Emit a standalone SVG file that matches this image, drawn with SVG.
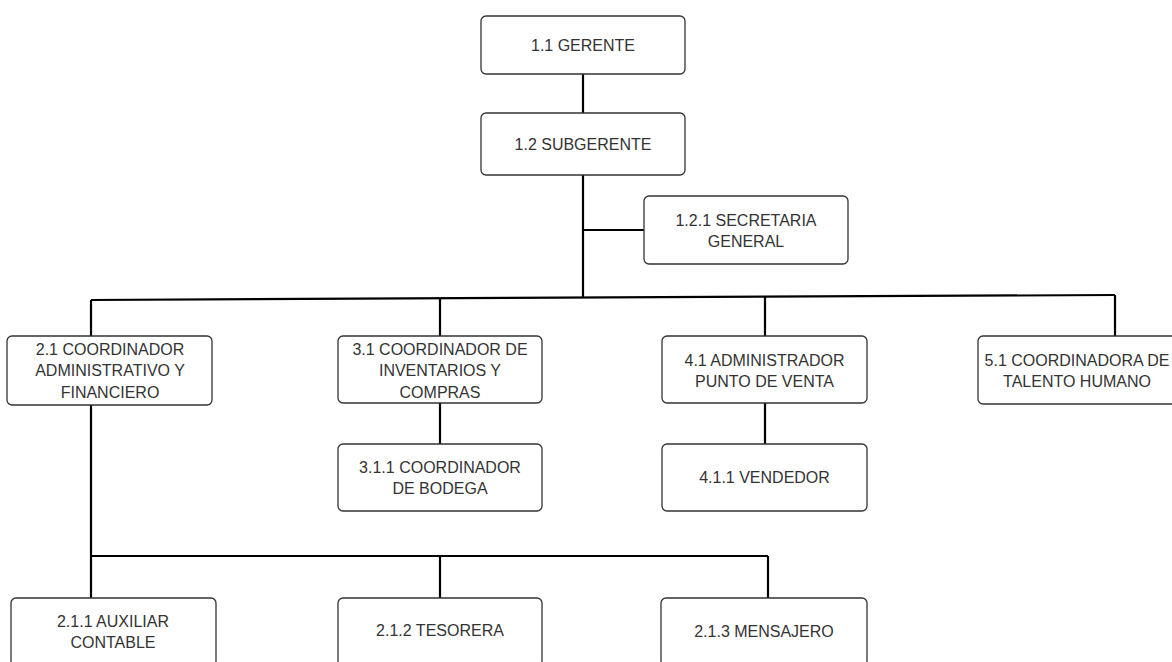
<svg xmlns="http://www.w3.org/2000/svg" width="1172" height="662" viewBox="0 0 1172 662">
<style>
.box{fill:#fff;stroke:#333;stroke-width:1.3}
.lbl{font-family:"Liberation Sans",Arial,sans-serif;font-size:16px;fill:#333;text-anchor:middle}
.ln{stroke:#000;stroke-width:2.2;fill:none}
</style>
<rect width="1172" height="662" fill="#fff"/>
<g id="connectors">
<line class="ln" x1="583" y1="74" x2="583" y2="113"/>
<line class="ln" x1="583" y1="175" x2="583" y2="298"/>
<line class="ln" x1="583" y1="230" x2="644" y2="230"/>
<line class="ln" x1="91" y1="300" x2="1115" y2="295"/>
<line class="ln" x1="91" y1="300" x2="91" y2="336"/>
<line class="ln" x1="440" y1="298" x2="440" y2="336"/>
<line class="ln" x1="765" y1="296.3" x2="765" y2="336"/>
<line class="ln" x1="1115" y1="295" x2="1115" y2="336"/>
<line class="ln" x1="440" y1="403" x2="440" y2="444"/>
<line class="ln" x1="765" y1="403" x2="765" y2="444"/>
<line class="ln" x1="91" y1="405" x2="91" y2="598"/>
<line class="ln" x1="91" y1="556" x2="768" y2="556"/>
<line class="ln" x1="440" y1="556" x2="440" y2="598"/>
<line class="ln" x1="768" y1="556" x2="768" y2="598"/>
</g>
<g id="n11"><rect class="box" x="481" y="16" width="204" height="58" rx="5"/><text class="lbl" x="583" y="50.5">1.1 GERENTE</text></g>
<g id="n12"><rect class="box" x="481" y="113" width="204" height="62" rx="5"/><text class="lbl" x="583" y="149.5">1.2 SUBGERENTE</text></g>
<g id="n121"><rect class="box" x="644" y="196" width="204" height="68" rx="5"/><text class="lbl" x="746" y="225.5">1.2.1 SECRETARIA</text><text class="lbl" x="746" y="247">GENERAL</text></g>
<g id="n21"><rect class="box" x="7" y="336" width="205" height="69" rx="5"/><text class="lbl" x="110" y="354.5">2.1 COORDINADOR</text><text class="lbl" x="110" y="376">ADMINISTRATIVO Y</text><text class="lbl" x="110" y="397.5">FINANCIERO</text></g>
<g id="n31"><rect class="box" x="338" y="336" width="204" height="67" rx="5"/><text class="lbl" x="440" y="354.5">3.1 COORDINADOR DE</text><text class="lbl" x="440" y="376">INVENTARIOS Y</text><text class="lbl" x="440" y="397.5">COMPRAS</text></g>
<g id="n41"><rect class="box" x="662" y="336" width="205" height="67" rx="5"/><text class="lbl" x="764.5" y="365.5">4.1 ADMINISTRADOR</text><text class="lbl" x="764.5" y="387">PUNTO DE VENTA</text></g>
<g id="n51"><rect class="box" x="978" y="336" width="204" height="68" rx="5"/><text class="lbl" x="1077" y="365.5">5.1 COORDINADORA DE</text><text class="lbl" x="1077" y="387">TALENTO HUMANO</text></g>
<g id="n311"><rect class="box" x="338" y="444" width="204" height="67" rx="5"/><text class="lbl" x="440" y="472.5">3.1.1 COORDINADOR</text><text class="lbl" x="440" y="494">DE BODEGA</text></g>
<g id="n411"><rect class="box" x="662" y="444" width="205" height="67" rx="5"/><text class="lbl" x="764.5" y="483">4.1.1 VENDEDOR</text></g>
<g id="n211"><rect class="box" x="11" y="598" width="205" height="68" rx="5"/><text class="lbl" x="113" y="626.5">2.1.1 AUXILIAR</text><text class="lbl" x="113" y="648">CONTABLE</text></g>
<g id="n212"><rect class="box" x="338" y="598" width="204" height="68" rx="5"/><text class="lbl" x="440" y="636">2.1.2 TESORERA</text></g>
<g id="n213"><rect class="box" x="661" y="598" width="206" height="68" rx="5"/><text class="lbl" x="764" y="637">2.1.3 MENSAJERO</text></g>
</svg>
